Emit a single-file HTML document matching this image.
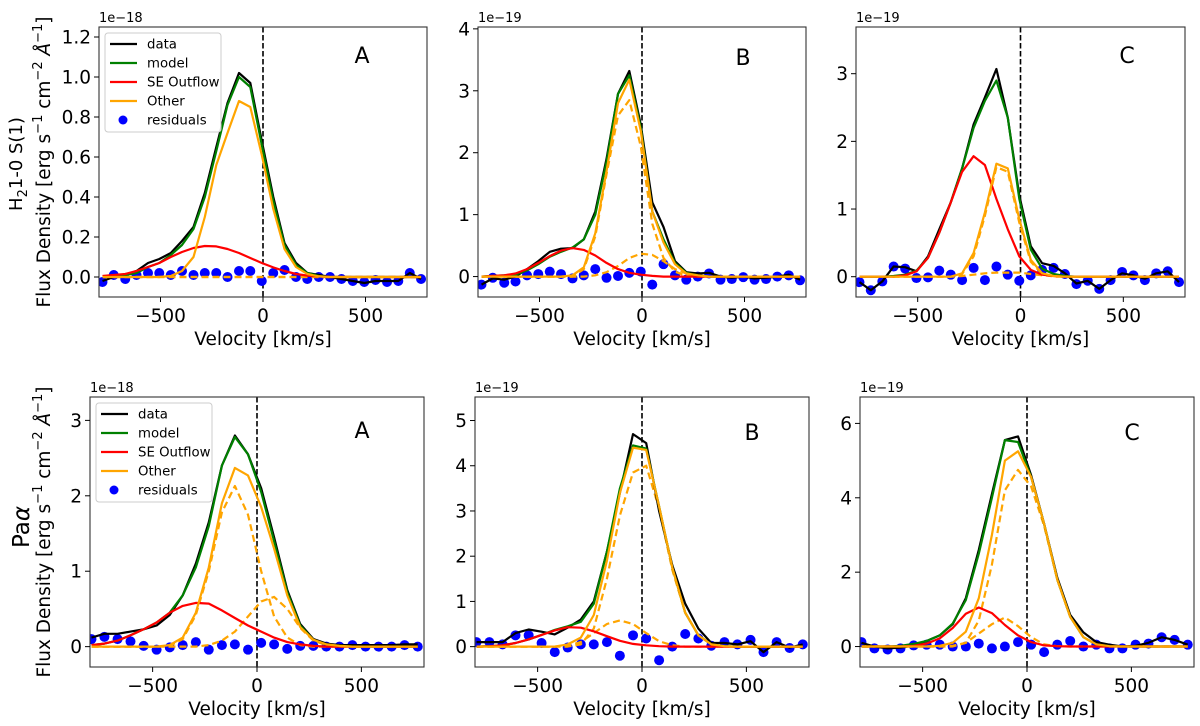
<!DOCTYPE html>
<html><head><meta charset="utf-8"><style>
html,body{margin:0;padding:0;background:#fff;}
svg{display:block;font-family:"DejaVu Sans","Liberation Sans",sans-serif;}
</style></head><body>
<svg id="fig" width="1200" height="726" viewBox="0 0 1200 726" xmlns="http://www.w3.org/2000/svg">
<rect x="0" y="0" width="1200" height="726" fill="#fff"/>
</svg>
<script>
// velocity grids (km/s)
const velH2 = [-783,-728,-672,-617,-561,-506,-450,-395,-339,-284,-228,-173,-117,-62,-6,50,105,161,216,272,327,383,438,494,549,605,660,716,771];
const velPa = [-793,-731,-668,-606,-543,-481,-418,-356,-293,-231,-168,-106,-43,20,82,145,207,270,332,395,457,520,582,645,707,770];

// H2 panel A (1e-18)
const h2A_data = [-0.02,0.0,0.01,0.03,0.07,0.09,0.12,0.18,0.25,0.42,0.65,0.87,1.02,0.97,0.68,0.40,0.17,0.07,0.02,0.01,0.0,-0.01,-0.02,-0.03,-0.02,-0.02,-0.02,0.02,-0.01];
const h2A_model = [0,0.005,0.01,0.02,0.05,0.07,0.11,0.16,0.24,0.40,0.63,0.86,1.00,0.95,0.66,0.38,0.16,0.06,0.02,0.005,0,0,0,0,0,0,0,0,0];
const h2A_out = [0.005,0.01,0.015,0.03,0.05,0.07,0.10,0.125,0.145,0.155,0.153,0.14,0.12,0.095,0.07,0.048,0.03,0.015,0.007,0.003,0,0,0,0,0,0,0,0,0];
const h2A_other = [0,0,0,0,0,0,0.005,0.03,0.10,0.30,0.56,0.72,0.88,0.85,0.61,0.34,0.14,0.05,0.015,0.003,0,0,0,0,0,0,0,0,0];
const h2A_dash1 = [0,0,0,0,0,0,0,0,0,0,0,0,0,0,0,0,0,0,0,0,0,0,0,0,0,0,0,0,0];
const h2A_dash2 = [0,0,0,0,0,0,0,0,0,0,0,0,0,0,0,0,0,0,0,0,0,0,0,0,0,0,0,0,0];
const h2A_resid = [-0.025,0.01,-0.01,0.01,0.02,0.02,0.01,0.03,0.01,0.02,0.02,0.0,0.03,0.03,-0.02,0.02,0.035,0.0,-0.01,0.0,0.0,-0.01,-0.02,-0.025,-0.015,-0.025,-0.02,0.02,-0.01];

// H2 panel B (1e-19)
const h2B_data = [-0.13,-0.03,-0.05,0.0,0.12,0.25,0.40,0.45,0.46,0.60,1.05,1.9,2.95,3.32,2.45,1.2,0.8,0.25,0.07,0.05,0.06,0.0,-0.02,0.0,-0.03,-0.02,0.0,0.03,-0.05];
const h2B_model = [0,0.01,0.02,0.03,0.1,0.2,0.32,0.40,0.47,0.60,1.0,1.85,2.95,3.25,2.4,1.05,0.6,0.22,0.06,0.02,0,0,0,0,0,0,0,0,0];
const h2B_out = [0,0.01,0.02,0.05,0.12,0.22,0.33,0.42,0.46,0.43,0.34,0.22,0.12,0.06,0.03,0.01,0,0,0,0,0,0,0,0,0,0,0,0,0];
const h2B_other = [0,0,0,0,0,0,0,0,0.02,0.15,0.7,1.7,2.8,3.18,2.35,1.05,0.55,0.2,0.05,0.02,0,0,0,0,0,0,0,0,0];
const h2B_dash1 = [0,0,0,0,0,0,0,0,0,0.12,0.65,1.65,2.6,2.85,2.1,0.85,0.3,0.08,0.01,0,0,0,0,0,0,0,0,0,0];
const h2B_dash2 = [0,0,0,0,0,0,0,0,0,0,0.02,0.07,0.17,0.30,0.37,0.35,0.25,0.12,0.05,0.01,0,0,0,0,0,0,0,0,0];
const h2B_resid = [-0.13,-0.02,-0.1,-0.08,0.02,0.04,0.08,0.04,-0.03,0.02,0.12,-0.02,0.01,0.06,0.08,-0.13,0.2,0.02,-0.05,0.0,0.05,-0.05,-0.04,-0.01,-0.05,-0.04,0.0,0.02,-0.06];

// H2 panel C (1e-19)
const h2C_data = [-0.08,-0.2,-0.07,0.15,0.14,0.08,0.3,0.7,1.1,1.6,2.25,2.65,3.07,2.35,1.2,0.45,0.2,0.16,0.05,-0.1,-0.06,-0.18,-0.05,0.05,0.02,-0.03,0.05,0.08,-0.08];
const h2C_model = [0,0,0,0.01,0.03,0.09,0.28,0.65,1.1,1.6,2.2,2.6,2.9,2.35,1.15,0.4,0.12,0.04,0.01,0,0,0,0,0,0,0,0,0,0];
const h2C_out = [0,0,0,0,0.02,0.08,0.28,0.65,1.1,1.55,1.78,1.65,1.15,0.7,0.3,0.1,0.03,0.01,0,0,0,0,0,0,0,0,0,0,0];
const h2C_other = [0,0,0,0,0,0,0,0,0,0.05,0.35,0.95,1.67,1.6,0.85,0.25,0.05,0.01,0,0,0,0,0,0,0,0,0,0,0];
const h2C_dash1 = [0,0,0,0,0,0,0,0,0,0.04,0.3,0.9,1.62,1.55,0.8,0.22,0.04,0,0,0,0,0,0,0,0,0,0,0,0];
const h2C_dash2 = [0,0,0,0,0,0,0,0,0,0.01,0.03,0.05,0.06,0.06,0.06,0.04,0.02,0.01,0,0,0,0,0,0,0,0,0,0,0];
const h2C_resid = [-0.08,-0.2,-0.07,0.15,0.12,-0.02,-0.01,0.09,0.03,-0.05,0.13,-0.05,0.15,0.03,-0.06,0.02,0.1,0.13,0.04,-0.11,-0.06,-0.18,-0.05,0.07,0.02,-0.05,0.05,0.08,-0.08];

// Pa-alpha panel A (1e-18)
const paA_data = [0.12,0.17,0.17,0.2,0.23,0.28,0.42,0.68,1.1,1.65,2.4,2.8,2.55,2.1,1.45,0.75,0.3,0.1,0.04,0.02,0.02,0.02,0.02,0.02,0.03,0.03];
const paA_model = [0.02,0.04,0.08,0.15,0.23,0.32,0.45,0.68,1.05,1.6,2.4,2.78,2.55,2.05,1.4,0.72,0.28,0.09,0.03,0.01,0,0,0,0,0,0];
const paA_out = [0.02,0.04,0.08,0.15,0.23,0.32,0.45,0.54,0.58,0.57,0.48,0.38,0.28,0.2,0.12,0.06,0.03,0.01,0,0,0,0,0,0,0,0];
const paA_other = [0,0,0,0,0,0,0.02,0.12,0.45,1.05,1.9,2.37,2.27,1.85,1.3,0.68,0.26,0.09,0.03,0.01,0,0,0,0,0,0];
const paA_dash1 = [0,0,0,0,0,0,0.01,0.1,0.42,1.0,1.78,2.13,1.75,1.0,0.4,0.12,0.02,0,0,0,0,0,0,0,0,0];
const paA_dash2 = [0,0,0,0,0,0,0,0,0,0.02,0.08,0.2,0.4,0.6,0.66,0.5,0.25,0.08,0.02,0,0,0,0,0,0,0];
const paA_resid = [0.1,0.13,0.1,0.07,0.01,-0.04,-0.01,0.02,0.06,-0.04,0.02,0.03,-0.04,0.05,0.03,-0.03,0.01,0.01,0.0,0.0,0.02,0.0,0.0,0.0,0.02,0.0];

// Pa-alpha panel B (1e-19)
const paB_data = [0.1,0.1,0.1,0.3,0.38,0.33,0.27,0.42,0.6,1.0,2.1,3.4,4.7,4.5,3.0,1.8,0.95,0.4,0.08,0.08,0.05,0.12,-0.12,0.1,-0.02,0.05];
const paB_model = [0,0.01,0.03,0.08,0.16,0.26,0.37,0.45,0.55,0.95,2.1,3.5,4.45,4.38,3.1,1.75,0.75,0.25,0.05,0.01,0,0,0,0,0,0];
const paB_out = [0,0.01,0.03,0.08,0.16,0.26,0.36,0.43,0.42,0.34,0.23,0.13,0.06,0.03,0.01,0,0,0,0,0,0,0,0,0,0,0];
const paB_other = [0,0,0,0,0,0,0,0.05,0.2,0.7,1.9,3.4,4.4,4.35,3.1,1.75,0.75,0.25,0.05,0.01,0,0,0,0,0,0];
const paB_dash1 = [0,0,0,0,0,0,0,0,0.05,0.4,1.5,2.9,3.85,4.0,3.05,1.7,0.75,0.25,0.05,0,0,0,0,0,0,0];
const paB_dash2 = [0,0,0,0,0,0,0,0.02,0.1,0.3,0.5,0.58,0.5,0.3,0.12,0.03,0,0,0,0,0,0,0,0,0,0];
const paB_resid = [0.1,0.1,0.05,0.25,0.25,0.08,-0.12,-0.02,0.05,0.05,0.1,-0.2,0.25,0.18,-0.3,0.0,0.28,0.18,0.02,0.1,0.05,0.15,-0.12,0.1,-0.03,0.05];

// Pa-alpha panel C (1e-19)
const paC_data = [0.1,0.0,-0.05,-0.03,0.03,0.15,0.3,0.6,1.3,2.6,4.1,5.55,5.65,4.6,3.3,1.85,0.85,0.38,0.12,0.05,0.0,0.02,0.1,0.25,0.18,0.05];
const paC_model = [0,0,0,0.02,0.07,0.15,0.3,0.62,1.25,2.5,4.0,5.55,5.5,4.55,3.3,1.8,0.8,0.25,0.06,0.01,0,0,0,0,0,0];
const paC_out = [0,0,0,0,0.02,0.08,0.22,0.5,0.88,1.05,0.9,0.58,0.3,0.12,0.03,0.01,0,0,0,0,0,0,0,0,0,0];
const paC_other = [0,0,0,0,0,0,0.02,0.1,0.4,1.3,3.0,5.0,5.25,4.55,3.3,1.8,0.8,0.25,0.06,0.01,0,0,0,0,0,0];
const paC_dash1 = [0,0,0,0,0,0,0,0,0.1,0.7,2.2,4.2,4.75,4.3,3.25,1.8,0.8,0.25,0.05,0,0,0,0,0,0,0];
const paC_dash2 = [0,0,0,0,0,0,0,0.02,0.1,0.35,0.6,0.78,0.55,0.25,0.06,0.01,0,0,0,0,0,0,0,0,0,0];
const paC_resid = [0.12,-0.05,-0.08,-0.05,0.03,0.05,0.05,0.0,0.0,0.08,-0.05,0.0,0.12,0.05,-0.15,0.05,0.15,0.0,0.05,-0.05,-0.05,0.05,0.08,0.25,0.18,0.05];

// tick labels
const xTickVals = [-500,0,500];
const xTickLabels = ["\u2212500","0","500"];
const yTicksTopA = [0,0.2,0.4,0.6,0.8,1.0,1.2];
const yTickLabelsTopA = ["0.0","0.2","0.4","0.6","0.8","1.0","1.2"];
const yTicksTopB = [0,1,2,3,4];
const yTicksTopC = [0,1,2,3];
const yTicksBotA = [0,1,2,3];
const yTicksBotB = [0,1,2,3,4,5];
const yTicksBotC = [0,2,4,6];

const NS = "http://www.w3.org/2000/svg";
const fig = document.getElementById('fig');
function mk(tag, attrs, parent){
  const e = document.createElementNS(NS, tag);
  for (const k in attrs) e.setAttribute(k, attrs[k]);
  (parent||fig).appendChild(e);
  return e;
}

const panels = [
 {key:'h2-a', v:velH2, x0:99, x1:427, y0:27, y1:297, ymin:-0.10, ymax:1.25, yt:yTicksTopA, ytl:yTickLabelsTopA, exp:'1e\u221218', letter:'A', lx:362, ly:55,
  data:h2A_data, model:h2A_model, out:h2A_out, other:h2A_other, d1:h2A_dash1, d2:h2A_dash2, res:h2A_resid, legend:true},
 {key:'h2-b', v:velH2, x0:478, x1:806, y0:27, y1:297, ymin:-0.33, ymax:4.03, yt:yTicksTopB, exp:'1e\u221219', letter:'B', lx:743, ly:57,
  data:h2B_data, model:h2B_model, out:h2B_out, other:h2B_other, d1:h2B_dash1, d2:h2B_dash2, res:h2B_resid},
 {key:'h2-c', v:velH2, x0:856, x1:1185, y0:27, y1:297, ymin:-0.30, ymax:3.69, yt:yTicksTopC, exp:'1e\u221219', letter:'C', lx:1127, ly:55,
  data:h2C_data, model:h2C_model, out:h2C_out, other:h2C_other, d1:h2C_dash1, d2:h2C_dash2, res:h2C_resid},
 {key:'pa-a', v:velPa, x0:90, x1:424, y0:397, y1:667, ymin:-0.27, ymax:3.31, yt:yTicksBotA, exp:'1e\u221218', letter:'A', lx:362, ly:430,
  data:paA_data, model:paA_model, out:paA_out, other:paA_other, d1:paA_dash1, d2:paA_dash2, res:paA_resid, legend:true},
 {key:'pa-b', v:velPa, x0:475, x1:809, y0:397, y1:667, ymin:-0.45, ymax:5.52, yt:yTicksBotB, exp:'1e\u221219', letter:'B', lx:752, ly:432,
  data:paB_data, model:paB_model, out:paB_out, other:paB_other, d1:paB_dash1, d2:paB_dash2, res:paB_resid},
 {key:'pa-c', v:velPa, x0:860, x1:1194, y0:397, y1:667, ymin:-0.55, ymax:6.71, yt:yTicksBotC, exp:'1e\u221219', letter:'C', lx:1132, ly:432,
  data:paC_data, model:paC_model, out:paC_out, other:paC_other, d1:paC_dash1, d2:paC_dash2, res:paC_resid}
];

panels.forEach(p => {
  const g = mk('g', {});
  
  
  const xs = v => p.x0 + (v + 800) / 1600 * (p.x1 - p.x0);
  const ys = y => p.y1 - (y - p.ymin) / (p.ymax - p.ymin) * (p.y1 - p.y0);
  const cid = 'clip-' + p.key;
  const cp = mk('clipPath', {id: cid}, g);
  mk('rect', {x:p.x0, y:p.y0, width:p.x1-p.x0, height:p.y1-p.y0}, cp);
  const plot = mk('g', {'clip-path':'url(#'+cid+')'}, g);
  
  

  const zl = mk('line', {x1:xs(0), x2:xs(0), y1:p.y0, y2:p.y1, stroke:'#000', 'stroke-width':1.6, 'stroke-dasharray':'5.5,2.5'}, plot);
  
  

  const line = (arr, color, name, dash) => {
    const pts = p.v.map((v,i) => xs(v).toFixed(1) + ',' + ys(arr[i] ?? 0).toFixed(1)).join(' ');
    const pl = mk('polyline', {points:pts, fill:'none', stroke:color, 'stroke-width':2.2, 'stroke-linejoin':'round'}, plot);
    if (dash) pl.setAttribute('stroke-dasharray', '7,4');
    
    
  };
  p.res.forEach((r,i) => {
    const c = mk('circle', {cx:xs(p.v[i]), cy:ys(r), r:5, fill:'#0000ff'}, plot);
    
    
  });
  line(p.d1, '#ffa500', 'other-component-1-dashed', true);
  line(p.d2, '#ffa500', 'other-component-2-dashed', true);
  line(p.data, '#000000', 'data-line');
  line(p.model, '#008000', 'model-line');
  line(p.out, '#ff0000', 'se-outflow-line');
  line(p.other, '#ffa500', 'other-line');

  const fr = mk('rect', {x:p.x0, y:p.y0, width:p.x1-p.x0, height:p.y1-p.y0, fill:'none', stroke:'#333', 'stroke-width':1.1}, g);
  
  

  xTickVals.forEach((t,i) => {
    mk('line', {x1:xs(t), x2:xs(t), y1:p.y1, y2:p.y1+5, stroke:'#000', 'stroke-width':1}, g);
    const tl = mk('text', {x:xs(t), y:p.y1+25, 'font-size':18.5, 'text-anchor':'middle', fill:'#000'}, g);
    tl.textContent = xTickLabels[i];
    
    
  });
  p.yt.forEach((t,i) => {
    mk('line', {x1:p.x0-5, x2:p.x0, y1:ys(t), y2:ys(t), stroke:'#000', 'stroke-width':1}, g);
    const tl = mk('text', {x:p.x0-8, y:ys(t)+6.5, 'font-size':18.5, 'text-anchor':'end', fill:'#000'}, g);
    tl.textContent = p.ytl ? p.ytl[i] : String(t);
    
    
  });
  const xl = mk('text', {x:(p.x0+p.x1)/2, y:p.y1+48, 'font-size':18.5, 'text-anchor':'middle', fill:'#000'}, g);
  xl.textContent = 'Velocity [km/s]';
  
  
  const ex = mk('text', {x:p.x0, y:p.y0-5, 'font-size':13, fill:'#000'}, g);
  ex.textContent = p.exp;
  
  
  const lt = mk('text', {x:p.lx, y:p.ly+8, 'font-size':22, 'text-anchor':'middle', fill:'#000'}, g);
  lt.textContent = p.letter;
  
  

  if (p.legend) {
    const lg = mk('g', {}, g);
    
    
    const bx = p.x0 + 6, by = p.y0 + 6;
    mk('rect', {x:bx, y:by, width:116, height:99, rx:3, fill:'#fff', 'fill-opacity':0.85, stroke:'#ccc', 'stroke-width':1}, lg);
    const items = [['data','#000000','line'],['model','#008000','line'],['SE Outflow','#ff0000','line'],['Other','#ffa500','line'],['residuals','#0000ff','dot']];
    items.forEach((it,i) => {
      const yy = by + 11 + i*19;
      const e = mk('g', {}, lg);
      
      
      if (it[2] === 'line') mk('line', {x1:bx+5, x2:bx+32, y1:yy, y2:yy, stroke:it[1], 'stroke-width':2.2}, e);
      else mk('circle', {cx:bx+18, cy:yy, r:4.5, fill:it[1]}, e);
      const t = mk('text', {x:bx+42, y:yy+4.5, 'font-size':13.3, fill:'#000'}, e);
      t.textContent = it[0];
    });
  }
});

function rowTitle(cx, cy, html, size, name){
  const t = mk('text', {x:0, y:0, 'font-size':size, 'text-anchor':'middle', fill:'#000', transform:'translate('+cx+','+cy+') rotate(-90)'});
  t.innerHTML = html;
  
  
}
const fluxTitle = 'Flux Density [erg s<tspan font-size="13" dy="-8">\u22121</tspan><tspan dy="8"> cm</tspan><tspan font-size="13" dy="-8">\u22122</tspan><tspan dy="8"> </tspan><tspan font-style="italic">\u00c5</tspan><tspan font-size="13" dy="-8">\u22121</tspan><tspan dy="8">]</tspan>';
rowTitle(50, 162, fluxTitle, 18.5, 'y-axis-title-top');
rowTitle(22, 164, 'H<tspan font-size="13" dy="5">2</tspan><tspan dy="-5">1-0 S(1)</tspan>', 18, 'row-title-h2');
rowTitle(50, 532, fluxTitle, 18.5, 'y-axis-title-bottom');
rowTitle(29, 527, 'Pa<tspan font-style="italic">\u03b1</tspan>', 23, 'row-title-pa-alpha');
</script>
</body></html>
